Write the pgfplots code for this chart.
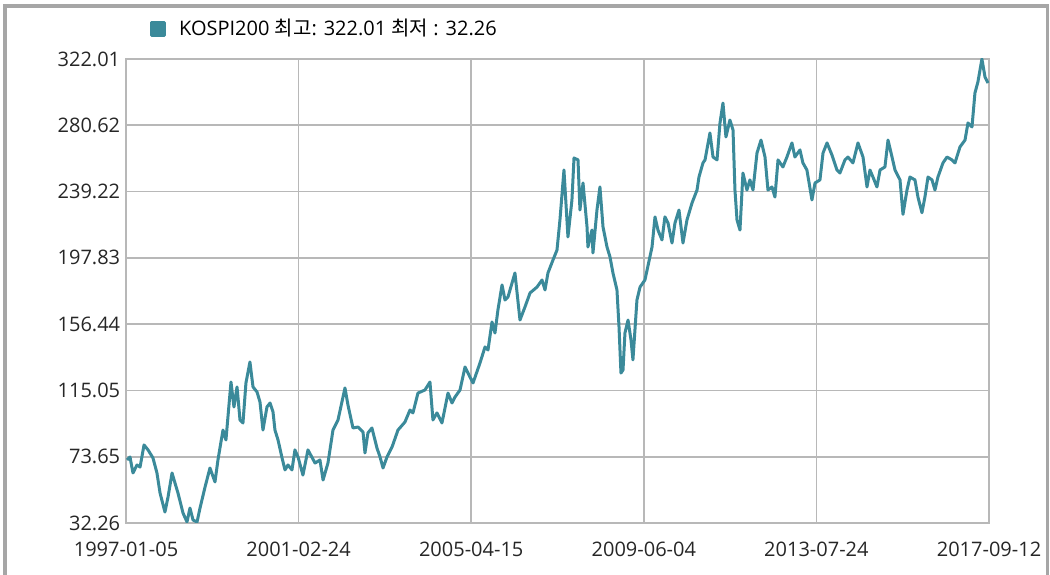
\documentclass[border=0pt]{standalone}
\usepackage{fontspec}
\usepackage{pgfplots}
\pgfplotsset{compat=1.18}
\setmainfont{Open Sans}
\newfontfamily\kr{Noto Sans CJK KR}
\definecolor{kline}{HTML}{3B8A9A}
\definecolor{gridc}{HTML}{B8B8B8}
\definecolor{framec}{HTML}{A6A6A6}
\begin{document}
\fontsize{20}{24}\selectfont
\begin{tikzpicture}
\useasboundingbox (-126pt,-52pt) rectangle (924pt,523pt);
\begin{axis}[
    scale only axis,
    width=863pt, height=464pt,
    xmin=0, xmax=7555,
    ymin=32.26, ymax=322.01,
    xtick={0,1511,3022,4533,6044,7555},
    xticklabels={1997-01-05,2001-02-24,2005-04-15,2009-06-04,2013-07-24,2017-09-12},
    ytick={32.26,73.65,115.05,156.44,197.83,239.22,280.62,322.01},
    yticklabels={32.26,73.65,115.05,156.44,197.83,239.22,280.62,322.01},
    /pgf/number format/assume math mode=true,
    major tick length=0pt,
    grid=major,
    major grid style={gridc, line width=1.6pt},
    axis line style={gridc, line width=1.6pt},
    tick label style={font=\fontsize{20}{24}\selectfont, text=black!85},
    yticklabel style={xshift=1pt},
    xticklabel style={yshift=-12pt},
    legend style={draw=none, fill=none, at={(axis description cs:0.0278,1.065)}, anchor=west,
        font=\fontsize{20}{24}\selectfont, inner sep=0pt},
    legend image code/.code={\fill (0pt,-6.5pt) rectangle (13pt,6.5pt); \path (24pt,0pt);},
]
\addplot[kline, line width=3pt, line join=round] coordinates {
(9,71.6) (35,73.5) (61,63.5) (96,68.5) (123,67.2) (158,81.0) (193,77.9) (236,72.9)
(271,63.5) (298,51.0) (341,39.1) (368,48.5) (403,63.5) (429,57.2) (455,51.0) (499,38.5)
(534,32.9) (560,41.6) (587,34.1) (622,32.9) (648,41.6) (692,54.7) (735,66.6) (779,57.9)
(805,71.6) (849,90.3) (875,84.1) (919,120.3) (945,104.7) (972,117.2) (998,96.6) (1024,94.7)
(1050,119.7) (1085,132.8) (1112,117.2) (1147,114.1) (1173,107.8) (1199,90.3) (1234,104.7)
(1261,107.2) (1287,101.6) (1304,90.3) (1331,84.1) (1366,72.9) (1392,65.4) (1418,68.5)
(1453,65.4) (1479,77.9) (1506,73.5) (1549,62.2) (1593,77.9) (1655,69.7) (1698,71.6)
(1725,59.1) (1768,69.7) (1812,90.3) (1856,96.6) (1917,116.6) (1943,106.0) (1987,91.6)
(2031,92.2) (2075,89.1) (2092,76.0) (2118,88.5) (2153,91.6) (2197,79.1) (2224,73.5)
(2250,66.6) (2285,73.5) (2329,79.7) (2381,90.3) (2442,95.3) (2486,102.8) (2512,101.0)
(2556,113.4) (2617,115.3) (2661,120.3) (2687,96.6) (2722,101.0) (2766,94.7) (2819,113.4)
(2854,107.2) (2880,110.9) (2924,115.3) (2968,129.7) (3011,123.4) (3038,119.7) (3099,132.2)
(3143,142.2) (3169,140.3) (3204,157.8) (3230,150.9) (3256,165.3) (3292,180.9) (3318,171.5)
(3344,173.4) (3405,188.4) (3449,159.0) (3493,167.2) (3537,175.9) (3598,179.6) (3642,184.0)
(3668,177.8) (3694,188.4) (3738,196.5) (3773,202.7) (3799,221.5) (3834,252.7) (3869,210.9)
(3904,234.0) (3922,260.2) (3957,259.0) (3974,227.7) (4001,244.6) (4036,217.1) (4044,204.6)
(4079,215.2) (4088,200.9) (4123,227.7) (4149,242.1) (4176,217.1) (4211,204.6) (4237,198.4)
(4263,188.4) (4298,177.8) (4316,154.7) (4333,125.9) (4351,127.8) (4368,150.9) (4395,159.0)
(4421,146.5) (4438,134.1) (4473,171.5) (4500,179.6) (4543,184.0) (4605,204.6) (4631,223.4)
(4657,215.2) (4692,209.0) (4718,223.4) (4745,219.6) (4780,207.1) (4806,219.6) (4841,227.7)
(4876,207.1) (4911,221.5) (4955,232.1) (4999,240.2) (5016,248.3) (5051,257.1) (5069,259.0)
(5112,275.8) (5139,260.8) (5174,259.0) (5200,282.1) (5226,294.5) (5252,273.3) (5287,283.9)
(5314,277.7) (5331,240.2) (5349,221.5) (5375,215.2) (5401,250.8) (5436,240.2) (5462,246.5)
(5489,240.2) (5524,263.3) (5559,271.4) (5594,260.8) (5620,240.2) (5655,242.1) (5681,235.8)
(5708,259.0) (5751,254.6) (5786,260.8) (5830,269.6) (5856,260.8) (5900,265.2) (5926,257.1)
(5961,252.7) (6005,234.0) (6032,244.6) (6075,246.5) (6102,263.3) (6137,269.6) (6180,262.1)
(6224,252.7) (6250,250.8) (6294,259.0) (6320,260.8) (6364,257.1) (6408,269.6) (6452,260.8)
(6487,242.1) (6513,252.7) (6539,248.3) (6574,242.1) (6601,252.7) (6644,254.6) (6671,271.4)
(6706,260.8) (6732,252.7) (6776,246.5) (6802,225.0) (6837,240.2) (6863,248.3) (6907,246.5)
(6933,235.8) (6968,226.0) (6994,235.8) (7021,248.3) (7056,246.5) (7082,240.2) (7108,248.3)
(7152,257.1) (7187,260.8) (7231,259.0) (7257,257.1) (7301,267.1) (7345,271.4) (7371,282.1)
(7406,279.6) (7432,300.8) (7458,307.7) (7493,322.0) (7520,310.8) (7546,307.0)
};
\addlegendentry{KOSPI200 {\kr 최고}: 322.01 {\kr 최저} : 32.26}
\end{axis}
\draw[framec, line width=3.5pt] (-121pt,-52pt) -- (-121pt,517pt) -- (921.5pt,517pt) -- (921.5pt,-52pt);
\end{tikzpicture}
\end{document}
